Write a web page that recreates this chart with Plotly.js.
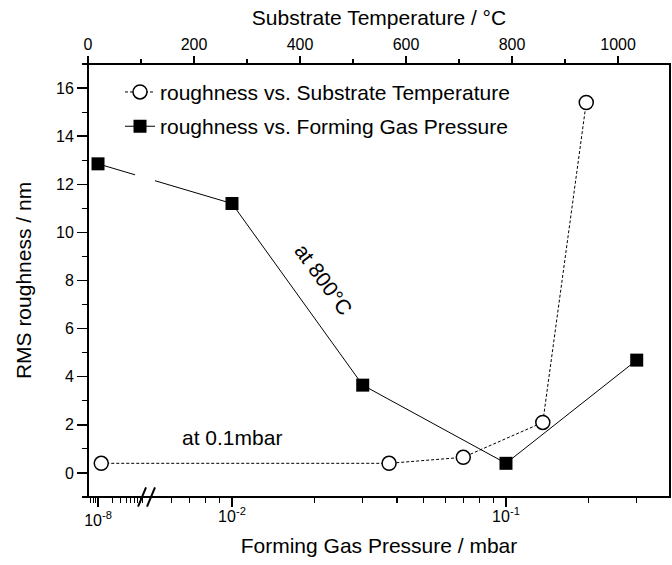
<!DOCTYPE html>
<html>
<head>
<meta charset="utf-8">
<script src="https://cdn.plot.ly/plotly-3.0.1.min.js"></script>
<style>html,body{margin:0;padding:0;background:#fff;}#chart{width:672px;height:565px;}</style>
</head>
<body>
<div id="chart"></div>
<script>
// ---- data ----
const temperature = [25, 568, 708, 858, 940];          // °C (top axis)
const roughnessT  = [0.4, 0.4, 0.65, 2.1, 15.4];       // nm
const pressure    = [1e-8, 0.01, 0.03, 0.1, 0.3];      // mbar (bottom, broken log axis)
const roughnessP  = [12.85, 11.2, 3.65, 0.4, 4.69];    // nm
const pTickVals = [0.01, 0.1];
const pTickText = ['10<sup>-2</sup>', '10<sup>-1</sup>'];
const pLeftTickVals = [1e-8];
const pLeftTickText = ['10<sup>-8</sup>'];
const minorLeft = [7e-9, 8e-9, 9e-9, 2e-8, 3e-8, 4e-8, 5e-8, 6e-8, 7e-8, 8e-8, 9e-8];
const minorMain = [0.006, 0.007, 0.008, 0.009, 0.02, 0.03, 0.04, 0.05, 0.06, 0.07, 0.08, 0.09, 0.2, 0.3];

// all ticks of the main bottom segment (labels only on the decades)
const mainTickVals = minorMain.concat(pTickVals).sort((a, b) => a - b);
const mainTickText = mainTickVals.map(v => {
  const i = pTickVals.indexOf(v);
  return i >= 0 ? pTickText[i] : '';
});

// ---- axis geometry (broken log axis) ----
const dom2 = [0, 0.1014];          // left segment (10^-8)
const r2 = [-8.213, -6.957];
const r1 = [-2.5255, -0.4014];     // main segment (paper 0..1)
const dom4 = [0.1014, 1];          // same scale, only right of the break
const r4 = [r1[0] + dom4[0] * (r1[1] - r1[0]), r1[1]];
const FONT = 'Liberation Sans, Arial, Helvetica, sans-serif';

const fx2 = v => dom2[0] + (Math.log10(v) - r2[0]) / (r2[1] - r2[0]) * (dom2[1] - dom2[0]);
const fx1 = v => (Math.log10(v) - r1[0]) / (r1[1] - r1[0]);

// connecting segment across the break, interrupted at the break
const xa = fx2(pressure[0]), xb = fx1(pressure[1]);
const ya = roughnessP[0], yb = roughnessP[1];
const yAt = x => ya + (x - xa) / (xb - xa) * (yb - ya);
const gapL = 0.0808, gapR = 0.1151;

const traces = [
  {
    x: temperature, y: roughnessT, xaxis: 'x3', yaxis: 'y',
    type: 'scatter', mode: 'lines+markers', legendgroup: 'a',
    name: 'roughness vs. Substrate Temperature',
    line: {color: '#000', width: 1, dash: '3px,2px'},
    marker: {symbol: 'circle', size: 14, color: '#fff', line: {color: '#000', width: 1.5}},
    cliponaxis: false
  },
  {
    x: pressure.slice(1), y: roughnessP.slice(1), xaxis: 'x', yaxis: 'y',
    type: 'scatter', mode: 'lines+markers', legendgroup: 'b',
    name: 'roughness vs. Forming Gas Pressure',
    line: {color: '#000', width: 1},
    marker: {symbol: 'square', size: 13, color: '#000'}
  },
  {
    x: pressure.slice(0, 1), y: roughnessP.slice(0, 1), xaxis: 'x2', yaxis: 'y',
    type: 'scatter', mode: 'markers', showlegend: false, legendgroup: 'b',
    name: 'roughness vs. Forming Gas Pressure',
    marker: {symbol: 'square', size: 13, color: '#000'}
  },
  // empty helper traces so the tick-only axes are drawn
  {x: [], y: [], xaxis: 'x4', yaxis: 'y', type: 'scatter', mode: 'markers', showlegend: false, hoverinfo: 'skip'},
  {x: [], y: [], xaxis: 'x5', yaxis: 'y', type: 'scatter', mode: 'markers', showlegend: false, hoverinfo: 'skip'}
];

const tickCommon = {ticks: 'outside', tickcolor: '#000', tickwidth: 1.5,
  showgrid: false, zeroline: false, showline: false,
  tickfont: {family: FONT, size: 16, color: '#000'}};

const layout = {
  width: 672, height: 565,
  margin: {l: 88, r: 2, t: 64, b: 68},
  paper_bgcolor: '#fff', plot_bgcolor: 'rgba(0,0,0,0)',
  font: {family: FONT, color: '#000'},
  showlegend: true,
  legend: {x: 0.055, y: 0.982, xanchor: 'left', yanchor: 'top', traceorder: 'grouped',
    bgcolor: 'rgba(0,0,0,0)', font: {family: FONT, size: 21, color: '#000'},
    tracegroupgap: 4},
  xaxis: Object.assign({}, tickCommon, {
    type: 'log', domain: [0, 1], range: r1, anchor: 'y',
    tickmode: 'array', tickvals: mainTickVals, ticktext: mainTickText, ticklen: 5, tickwidth: 1.2,
    title: {text: 'Forming Gas Pressure / mbar', font: {family: FONT, size: 21, color: '#000'}, standoff: 14}
  }),
  xaxis4: Object.assign({}, tickCommon, {
    type: 'log', domain: dom4, range: r4, anchor: 'y', side: 'bottom',
    tickmode: 'array', tickvals: pTickVals, ticklen: 9, showticklabels: false
  }),
  xaxis2: Object.assign({}, tickCommon, {
    type: 'log', domain: dom2, range: r2, anchor: 'y',
    tickmode: 'array', tickvals: pLeftTickVals, ticktext: pLeftTickText, ticklen: 9
  }),
  xaxis5: Object.assign({}, tickCommon, {
    type: 'log', overlaying: 'x2', range: r2, anchor: 'y', side: 'bottom',
    tickmode: 'array', tickvals: minorLeft, ticklen: 5, tickwidth: 1.2, showticklabels: false
  }),
  xaxis3: Object.assign({}, tickCommon, {
    type: 'linear', domain: [0, 1], side: 'top', anchor: 'y', range: [0, 1098],
    tickmode: 'linear', tick0: 0, dtick: 200, ticklen: 7,
    minor: {dtick: 100, tick0: 0, ticks: 'outside', ticklen: 4, tickcolor: '#000', tickwidth: 1.2},
    title: {text: 'Substrate Temperature / °C', font: {family: FONT, size: 21, color: '#000'}, standoff: 4}
  }),
  yaxis: Object.assign({}, tickCommon, {
    type: 'linear', range: [-1, 17], anchor: 'x',
    tickmode: 'linear', tick0: 0, dtick: 2, ticklen: 10,
    minor: {dtick: 1, tick0: 0, ticks: 'outside', ticklen: 5, tickcolor: '#000', tickwidth: 1.2},
    title: {text: 'RMS roughness / nm', font: {family: FONT, size: 21, color: '#000'}, standoff: 18}
  }),
  shapes: [
    {type: 'rect', xref: 'paper', yref: 'paper', x0: 0, x1: 1, y0: 0, y1: 1,
     line: {color: '#000', width: 2}, layer: 'above'},
    {type: 'line', xref: 'paper', yref: 'y', x0: xa, y0: ya, x1: gapL, y1: yAt(gapL),
     line: {color: '#000', width: 1}},
    {type: 'line', xref: 'paper', yref: 'y', x0: gapR, y0: yAt(gapR), x1: xb, y1: yb,
     line: {color: '#000', width: 1}},
    // break marks "//"
    {type: 'line', xref: 'paper', yref: 'paper', x0: 0.0860, x1: 0.0997, y0: -0.022, y1: 0.022,
     line: {color: '#000', width: 2}},
    {type: 'line', xref: 'paper', yref: 'paper', x0: 0.1014, x1: 0.1151, y0: -0.022, y1: 0.022,
     line: {color: '#000', width: 2}}
  ],
  annotations: [
    {text: 'at 800°C', xref: 'x3', yref: 'y', x: 445, y: 8.06, showarrow: false,
     textangle: 54, font: {family: FONT, size: 21, color: '#000'}},
    {text: 'at 0.1mbar', xref: 'x3', yref: 'y', x: 272, y: 1.49, showarrow: false,
     font: {family: FONT, size: 21, color: '#000'}}
  ]
};

Plotly.newPlot('chart', traces, layout, {displayModeBar: false, staticPlot: true});
</script>
</body>
</html>
